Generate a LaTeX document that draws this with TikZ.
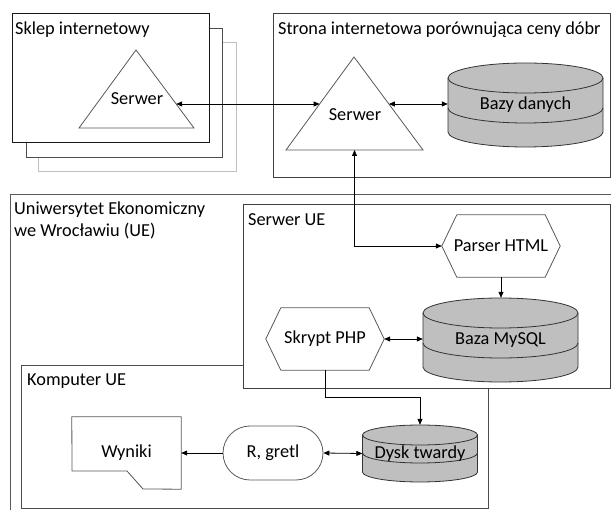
\documentclass[tikz,border=0pt]{standalone}
\usepackage{fontspec}
\setmainfont{Carlito}
\usetikzlibrary{arrows.meta,calc}
\newcommand\dbcyl[6]{% #1 cx, #2 top ellipse cy, #3 mid cy, #4 bottom cy, #5 rx, #6 ry
  \path[dbfill] (#1-#5,#2) -- (#1-#5,#4) arc[start angle=180,end angle=360,x radius=#5pt,y radius=#6pt]
     -- (#1+#5,#2) arc[start angle=0,end angle=180,x radius=#5pt,y radius=#6pt] -- cycle;
  \draw[dbline] (#1-#5,#2) arc[start angle=180,end angle=360,x radius=#5pt,y radius=#6pt];
  \draw[dbline] (#1-#5,#3) arc[start angle=180,end angle=360,x radius=#5pt,y radius=#6pt];
}
\newcommand\hexaround[2]{%
  \draw[shp] (#1.west) -- ($(#1.north west)+(#2,0)$) -- ($(#1.north east)+(-#2,0)$) -- (#1.east)
     -- ($(#1.south east)+(-#2,0)$) -- ($(#1.south west)+(#2,0)$) -- cycle;
}
\begin{document}
\begin{tikzpicture}[x=1pt,y=-1pt,
  font=\fontsize{18.3}{22}\selectfont,
  box/.style={draw=black!75,line width=0.9pt,fill=white},
  lbl/.style={anchor=base west,inner sep=0pt},
  tip/.tip={Triangle[length=6pt,width=5pt]},
  arr/.style={-tip,line width=0.8pt},
  arrb/.style={tip-tip,line width=0.8pt},
  dbfill/.style={fill=black!25,draw=black!80,line width=0.8pt},
  dbline/.style={draw=black!80,line width=0.8pt},
  shp/.style={draw=black!65,line width=0.8pt},
  txt/.style={inner sep=0pt}]
\useasboundingbox (0,0) rectangle (611,510);
\clip (0,0) rectangle (611,510);

% ---- Sklep internetowy (stack of pages)
\draw[line width=0.9pt,draw=black!25,fill=white] (38,42) rectangle (236,171);
\draw[line width=0.9pt,draw=black!70,fill=white] (26,28) rectangle (222,157);
\draw[line width=0.9pt,draw=black!90,fill=white] (12,13) rectangle (209,142);
\node[lbl] (sklep) at (15,35) {Sklep internetowy};
\draw[shp,fill=white] (136,50) -- (194,128) -- (79,128) -- cycle;
\node[txt] (srvL) at (137,99) {Serwer};
\coordinate (tLe) at (176.2,104);

% ---- Strona internetowa
\draw[box] (273,13) rectangle (610,177);
\node[lbl] (strona) at (278,35) {Strona internetowa porównująca ceny dóbr};
\draw[shp,fill=white] (354,57) -- (423,150) -- (286,150) -- cycle;
\node[txt] (srvR) at (355,115) {Serwer};
\coordinate (tRw) at (319.6,104);
\coordinate (tRe) at (388.9,104);
\coordinate (tRb) at (354.5,150);
\dbcyl{525.5}{78}{108}{132}{77.5}{15}
\node[txt,minimum width=155pt,minimum height=84pt] (bazy) at (525.5,105) {Bazy danych};

% ---- UE
\draw[line width=0.9pt,draw=black!65] (10,194) rectangle (625,525);
\node[lbl] (ue1) at (14,215) {Uniwersytet Ekonomiczny};
\node[lbl] (ue2) at (14,237) {we Wrocławiu (UE)};

\draw[line width=0.9pt,draw=black!70] (21,365) rectangle (488,508);
\node[lbl] (komp) at (27,386) {Komputer UE};

\draw[box] (243,204) rectangle (610,388);
\node[lbl] (serwue) at (248,226) {Serwer UE};

% Parser HTML
\node[txt,minimum width=118pt,minimum height=62pt] (parser) at (501,246) {Parser HTML};
\hexaround{parser}{15}
% Baza MySQL
\dbcyl{500.5}{313}{343}{367}{77.5}{15}
\node[txt,minimum width=155pt,minimum height=84pt] (mysql) at (500.5,340) {Baza MySQL};
% Skrypt PHP
\node[txt,minimum width=118pt,minimum height=62pt] (php) at (325,339) {Skrypt PHP};
\hexaround{php}{15}

% Komputer content
\dbcyl{420}{435}{453}{472}{57.5}{10}
\node[txt,minimum width=115pt,minimum height=57pt] (dysk) at (420,453.5) {Dysk twardy};
\node[draw=black!65,line width=0.8pt,rounded corners=27pt,minimum width=100pt,minimum height=54pt,inner sep=0pt] (rg) at (273,453) {R, gretl};
\node[txt,minimum width=109pt,minimum height=72pt] (wyn) at (126.5,453) {Wyniki};
\draw[shp] (wyn.north west) -- (wyn.north east) -- (wyn.south east) -- (143,489) -- (127,471) -- (72,471) -- cycle;

% ---- connectors
\draw[arrb] (tLe) -- (tRw);
\draw[arrb] (tRe) -- (tRe -| bazy.west);
\draw[arrb] (tRb) |- (parser.west);
\draw[arr] (parser.south) -- (parser.south |- mysql.north);
\draw[arrb] (php.east) -- (php.east -| mysql.west);
\coordinate (k1) at (325,397);
\draw[arr] (php.south) -- (k1) -| (dysk.north);
\draw[arrb] (rg.east) -- (dysk.west);
\draw[arr] (rg.west) -- (wyn.east);
\end{tikzpicture}
\end{document}
